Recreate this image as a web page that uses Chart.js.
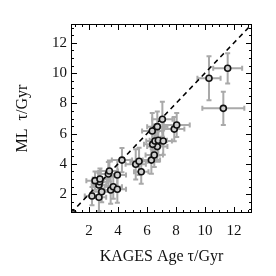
<!DOCTYPE html>
<html><head><meta charset="utf-8">
<style>html,body{margin:0;padding:0;background:#fff}canvas{display:block}</style>
<script src="https://cdn.jsdelivr.net/npm/chart.js@4/dist/chart.umd.min.js"></script>
</head><body>
<canvas id="c" width="276" height="276" style="width:276px;height:276px"></canvas>
<script>
// KAGES age (x), its error, ML age (y), its error  [Gyr]
const kagesAge = [2.20,2.68,2.87,2.68,2.73,2.41,2.75,3.33,3.40,3.95,3.49,3.67,3.95,4.27,5.22,5.45,5.60,6.30,6.50,6.71,6.39,6.55,6.78,7.12,6.36,6.71,7.06,7.88,8.05,10.28,11.57,11.27,0.90];
const kagesErr = [0.5,0.5,0.6,0.5,0.5,0.6,0.5,0.7,0.6,0.6,0.5,0.6,0.6,0.7,0.7,0.6,0.5,0.6,0.6,0.7,0.6,0.6,0.6,0.6,0.7,0.7,0.7,0.7,0.9,0.8,1.0,1.45,0];
const mlAge    = [1.87,1.79,2.16,2.60,2.82,2.89,3.00,3.33,3.53,3.26,2.27,2.49,2.32,4.25,3.97,4.17,3.48,4.25,4.59,5.14,5.29,5.51,5.56,5.51,6.17,6.46,6.95,6.30,6.57,9.66,10.32,7.67,0.70];
const mlErr    = [0.6,0.9,0.7,0.8,0.7,0.6,0.7,0.8,0.7,1.0,0.9,0.8,0.9,0.8,1.0,0.9,0.8,0.9,0.8,1.0,1.0,1.1,1.0,0.9,1.2,1.0,1.15,0.8,0.8,1.45,1.0,1.1,0];
const oneToOne = [0.75, 13.25];
const tickValues = [2,4,6,8,10,12];
const axisRange = [0.75, 13.25];

const FONT = "'Liberation Serif', 'Times New Roman', serif";

const errorBars = {
  id: 'errorBars',
  beforeDatasetsDraw(chart) {
    const {ctx, chartArea: a, scales: {x, y}} = chart;
    ctx.save();
    ctx.beginPath(); ctx.rect(a.left, a.top, a.right - a.left, a.bottom - a.top); ctx.clip();
    ctx.strokeStyle = '#a9a9a9'; ctx.lineWidth = 2;
    const cap = 2.5;
    kagesAge.forEach((xv, i) => {
      const yv = mlAge[i];
      const px = x.getPixelForValue(xv), py = y.getPixelForValue(yv);
      if (kagesErr[i] > 0) {
        const x0 = x.getPixelForValue(xv - kagesErr[i]), x1 = x.getPixelForValue(xv + kagesErr[i]);
        ctx.beginPath();
        ctx.moveTo(x0, py); ctx.lineTo(x1, py);
        ctx.moveTo(x0, py - cap); ctx.lineTo(x0, py + cap);
        ctx.moveTo(x1, py - cap); ctx.lineTo(x1, py + cap);
        ctx.stroke();
      }
      if (mlErr[i] > 0) {
        const y0 = y.getPixelForValue(yv - mlErr[i]), y1 = y.getPixelForValue(yv + mlErr[i]);
        ctx.beginPath();
        ctx.moveTo(px, y0); ctx.lineTo(px, y1);
        ctx.moveTo(px - cap, y0); ctx.lineTo(px + cap, y0);
        ctx.moveTo(px - cap, y1); ctx.lineTo(px + cap, y1);
        ctx.stroke();
      }
    });
    ctx.restore();
  }
};

const frame = {
  id: 'frame',
  afterDraw(chart) {
    const {ctx, chartArea: a, scales: {x, y}} = chart;
    ctx.save();
    ctx.strokeStyle = '#000'; ctx.lineWidth = 1;
    ctx.strokeRect(a.left + 0.5, a.top + 0.5, a.right - a.left - 1, a.bottom - a.top - 1);
    ctx.beginPath();
    for (let v = 1; v <= 13.001; v += 0.5) {
      const major = Math.abs(v / 2 - Math.round(v / 2)) < 1e-6;
      const L = major ? 6 : 3;
      const px = Math.round(x.getPixelForValue(v)) + 0.5;
      ctx.moveTo(px, a.bottom); ctx.lineTo(px, a.bottom - L);
      ctx.moveTo(px, a.top); ctx.lineTo(px, a.top + L);
      const py = Math.round(y.getPixelForValue(v)) + 0.5;
      ctx.moveTo(a.left, py); ctx.lineTo(a.left + L, py);
      ctx.moveTo(a.right, py); ctx.lineTo(a.right - L, py);
    }
    ctx.stroke();
    ctx.restore();
  }
};

new Chart(document.getElementById('c'), {
  type: 'scatter',
  data: {
    datasets: [
      {
        type: 'scatter',
        data: kagesAge.map((v, i) => ({x: v, y: mlAge[i]})),
        pointRadius: 3,
        pointBorderWidth: 1.6,
        borderColor: '#111',
        backgroundColor: '#cfcfcf',
        order: 0
      },
      {
        type: 'line',
        data: oneToOne.map(v => ({x: v, y: v})),
        borderColor: '#000',
        borderWidth: 1.5,
        borderDash: [5, 4],
        pointRadius: 0,
        fill: false,
        order: 1
      }
    ]
  },
  options: {
    responsive: false,
    devicePixelRatio: 1,
    animation: false,
    layout: {padding: {top: 24, right: 24, left: 0, bottom: 0}},
    plugins: {legend: {display: false}, tooltip: {enabled: false}},
    scales: {
      x: {
        type: 'linear', min: axisRange[0], max: axisRange[1],
        grid: {display: false, drawTicks: false},
        border: {display: false},
        afterBuildTicks: s => { s.ticks = tickValues.map(v => ({value: v})); },
        afterFit: s => { s.height = 63; },
        ticks: {font: {family: FONT, size: 15}, color: '#111', padding: 9, maxRotation: 0},
        title: {display: true, text: 'KAGES Age τ/Gyr', font: {family: FONT, size: 16}, color: '#111', padding: {top: 0, bottom: 10}}
      },
      y: {
        type: 'linear', min: axisRange[0], max: axisRange[1],
        grid: {display: false, drawTicks: false},
        border: {display: false},
        afterBuildTicks: s => { s.ticks = tickValues.map(v => ({value: v})); },
        afterFit: s => { s.width = 71; },
        ticks: {font: {family: FONT, size: 15}, color: '#111', padding: 4},
        title: {display: true, text: 'ML  τ/Gyr', font: {family: FONT, size: 16}, color: '#111', padding: {top: 13, bottom: 0}}
      }
    }
  },
  plugins: [errorBars, frame]
});
</script>
</body></html>
